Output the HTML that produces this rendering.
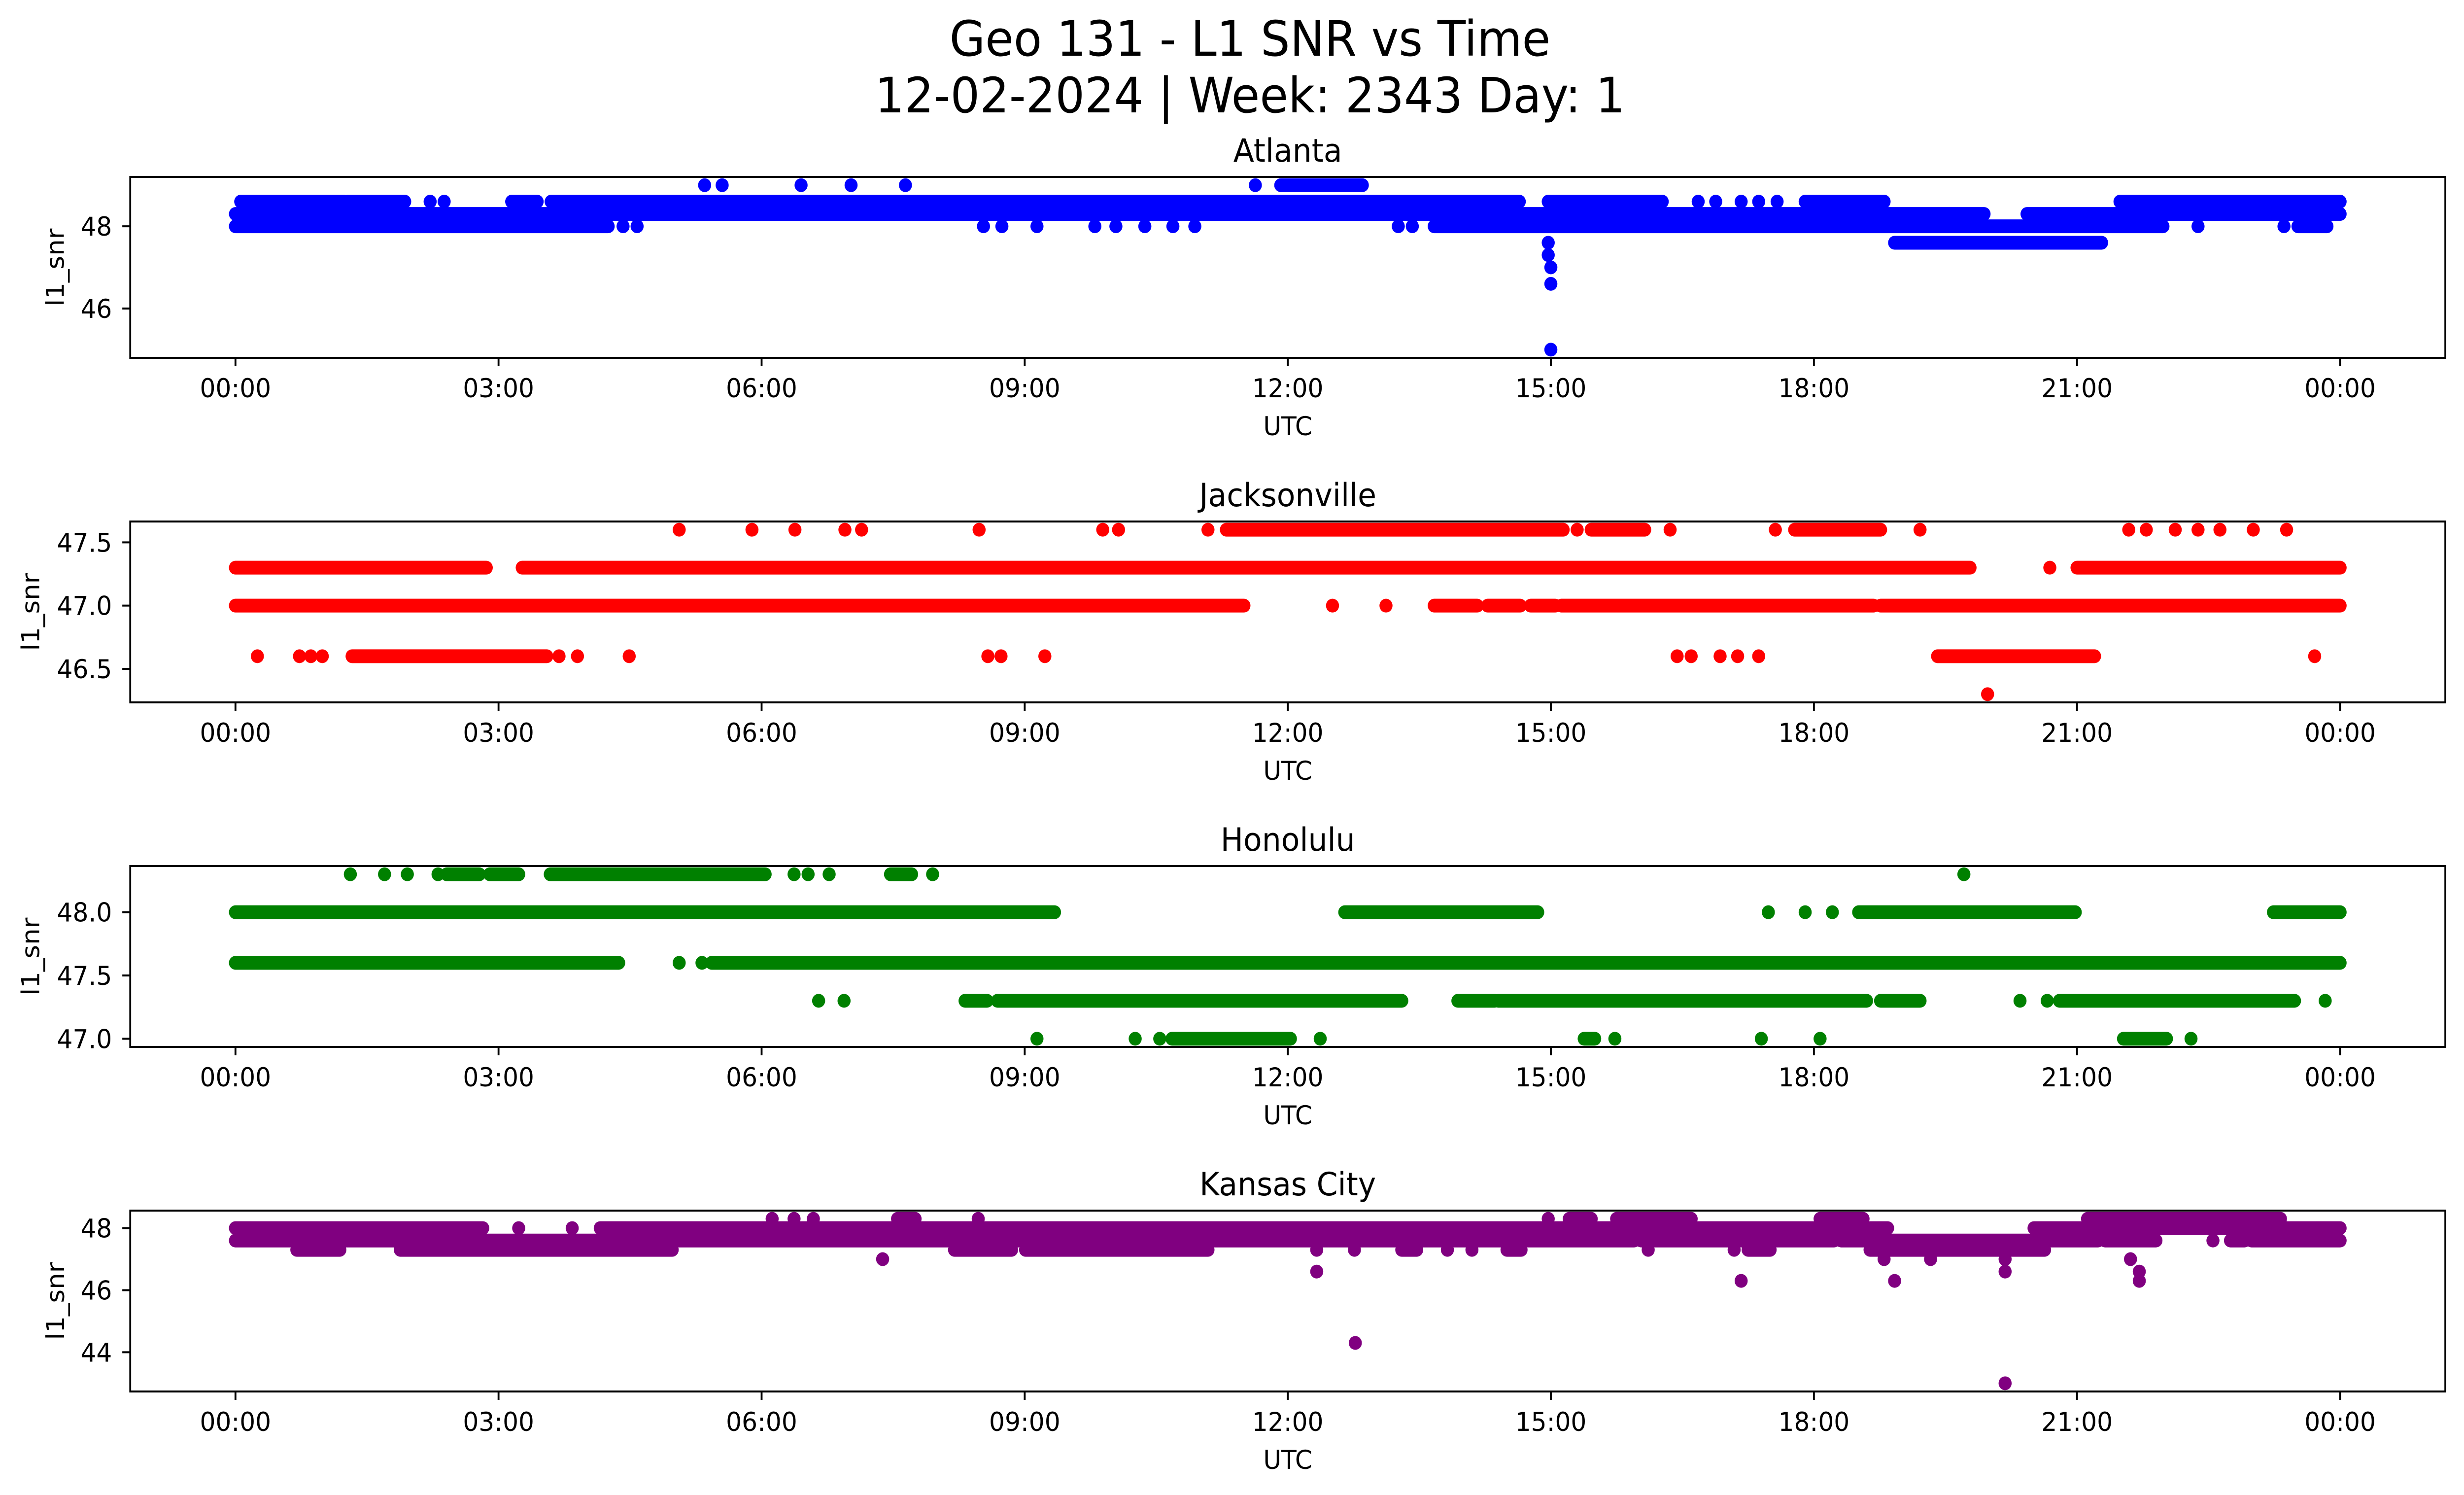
<!DOCTYPE html>
<html><head><meta charset="utf-8"><style>
html,body{margin:0;padding:0;background:#fff;width:100vw;height:100vh;overflow:hidden;}
svg{display:block;width:100vw;height:100vh;font-family:"DejaVu Sans","Liberation Sans",sans-serif;}
</style></head><body>
<svg id="fig" xmlns="http://www.w3.org/2000/svg" viewBox="0 0 5279 3033" preserveAspectRatio="none">
<rect width="5279" height="3033" fill="#fff"/>
<text x="2678" y="113" font-size="99" text-anchor="middle">Geo 131 - L1 SNR vs Time</text>
<text x="2678" y="228" font-size="99" text-anchor="middle">12-02-2024 | Week: 2343 Day: 1</text>
<g id="plots"></g>
</svg>
<script>
// ---- x-axis ticks ----
const xTickHours = [0,3,6,9,12,15,18,21,24];
const xTickLabels = ["00:00","03:00","06:00","09:00","12:00","15:00","18:00","21:00","00:00"];

// ---- Atlanta ----
const atlRunStart = [0.06,1.28,3.15,3.6,14.97,17.9,21.49, 0,20.43, 0,13.67,23.52, 11.92, 18.92];
const atlRunEnd   = [1.24,1.93,3.44,14.64,16.27,18.8,24, 19.94,24, 4.25,21.98,23.85, 12.85, 21.28];
const atlRunVal   = [48.6,48.6,48.6,48.6,48.6,48.6,48.6, 48.3,48.3, 48.0,48.0,48.0, 49.0, 47.6];
const atlPtTime = [2.22,2.38,16.68,16.88,17.17,17.37,17.58, 4.42,4.58,8.53,8.74,9.14,9.8,10.04,10.37,10.69,10.94,13.26,13.42,22.38,23.36, 5.35,5.55,6.45,7.02,7.64,11.63, 14.97,14.97,15.0,15.0,15.0];
const atlPtVal  = [48.6,48.6,48.6,48.6,48.6,48.6,48.6, 48.0,48.0,48.0,48.0,48.0,48.0,48.0,48.0,48.0,48.0,48.0,48.0,48.0,48.0, 49.0,49.0,49.0,49.0,49.0,49.0, 47.6,47.3,47.0,46.6,45.0];

// ---- Jacksonville ----
const jaxRunStart = [11.3,15.46,17.78, 0,3.27,21.0, 0,13.67,14.28,14.77,15.12,18.76, 1.33,19.41];
const jaxRunEnd   = [15.14,16.07,18.76, 2.86,19.78,24, 11.5,14.16,14.65,15.05,18.68,24, 3.55,21.2];
const jaxRunVal   = [47.6,47.6,47.6, 47.3,47.3,47.3, 47.0,47.0,47.0,47.0,47.0,47.0, 46.6,46.6];
const jaxPtTime = [5.06,5.89,6.38,6.95,7.14,8.48,9.89,10.07,11.09,15.3,16.36,17.56,19.21,21.59,21.79,22.12,22.38,22.63,23.01,23.39, 20.69, 12.51,13.12, 0.25,0.73,0.86,0.99,3.69,3.9,4.49,8.58,8.73,9.23,16.44,16.6,16.93,17.13,17.37,23.71, 19.98];
const jaxPtVal  = [47.6,47.6,47.6,47.6,47.6,47.6,47.6,47.6,47.6,47.6,47.6,47.6,47.6,47.6,47.6,47.6,47.6,47.6,47.6,47.6, 47.3, 47.0,47.0, 46.6,46.6,46.6,46.6,46.6,46.6,46.6,46.6,46.6,46.6,46.6,46.6,46.6,46.6,46.6,46.6, 46.3];

// ---- Honolulu ----
const hnlRunStart = [2.41,2.90,3.59,7.47, 0,12.65,18.51,23.24, 0,5.43, 8.32,8.69,13.94,14.4,18.76,20.8, 10.68,15.38,21.53];
const hnlRunEnd   = [2.78,3.23,6.04,7.71, 9.34,14.85,20.98,24, 4.37,24, 8.57,13.3,14.36,18.6,19.21,23.48, 12.03,15.5,22.02];
const hnlRunVal   = [48.3,48.3,48.3,48.3, 48.0,48.0,48.0,48.0, 47.6,47.6, 47.3,47.3,47.3,47.3,47.3,47.3, 47.0,47.0,47.0];
const hnlPtTime = [1.31,1.70,1.96,2.31,6.37,6.53,6.77,7.95,19.71, 17.48,17.9,18.21, 5.06,5.32, 6.65,6.94,20.35,20.66,23.83, 9.14,10.26,10.54,12.37,15.73,17.4,18.07,22.3];
const hnlPtVal  = [48.3,48.3,48.3,48.3,48.3,48.3,48.3,48.3,48.3, 48.0,48.0,48.0, 47.6,47.6, 47.3,47.3,47.3,47.3,47.3, 47.0,47.0,47.0,47.0,47.0,47.0,47.0,47.0];

// ---- Kansas City ----
const kcRunStart = [7.55,15.21,15.75,18.07,21.12, 0,4.16,20.51, 0,16.03,18.31,21.32,22.75,22.99, 0.7,1.88,8.2,9.01,13.3,14.5,17.25,18.64];
const kcRunEnd   = [7.75,15.46,16.6,18.56,23.32, 2.82,18.84,24, 15.95,18.23,21.24,21.9,22.91,24, 1.19,4.98,8.85,11.09,13.47,14.66,17.5,20.63];
const kcRunVal   = [48.3,48.3,48.3,48.3,48.3, 48.0,48.0,48.0, 47.6,47.6,47.6,47.6,47.6,47.6, 47.3,47.3,47.3,47.3,47.3,47.3,47.3,47.3];
const kcPtTime = [6.12,6.37,6.59,8.47,14.97, 3.23,3.84, 22.55, 12.33,12.76,13.82,14.1,16.11,17.09, 7.38,18.8,19.33,20.18,21.61, 12.33,20.18,21.71, 17.17,18.92,21.71, 12.77, 20.18];
const kcPtVal  = [48.3,48.3,48.3,48.3,48.3, 48.0,48.0, 47.6, 47.3,47.3,47.3,47.3,47.3,47.3, 47.0,47.0,47.0,47.0,47.0, 46.6,46.6,46.6, 46.3,46.3,46.3, 44.3, 43.0];

const panels = [
  {key:"atlanta", title:"Atlanta", color:"#0000ff", top:359, ymin:44.8, ymax:49.2, ticks:[46,48], tickLabels:["46","48"], ylx:118,
   rs:atlRunStart, re:atlRunEnd, rv:atlRunVal, pt:atlPtTime, pv:atlPtVal},
  {key:"jacksonville", title:"Jacksonville", color:"#ff0000", top:1058, ymin:46.235, ymax:47.665, ticks:[46.5,47,47.5], tickLabels:["46.5","47.0","47.5"], ylx:65,
   rs:jaxRunStart, re:jaxRunEnd, rv:jaxRunVal, pt:jaxPtTime, pv:jaxPtVal},
  {key:"honolulu", title:"Honolulu", color:"#008000", top:1757, ymin:46.935, ymax:48.365, ticks:[47,47.5,48], tickLabels:["47.0","47.5","48.0"], ylx:65,
   rs:hnlRunStart, re:hnlRunEnd, rv:hnlRunVal, pt:hnlPtTime, pv:hnlPtVal},
  {key:"kansas-city", title:"Kansas City", color:"#800080", top:2456, ymin:42.735, ymax:48.565, ticks:[44,46,48], tickLabels:["44","46","48"], ylx:118,
   rs:kcRunStart, re:kcRunEnd, rv:kcRunVal, pt:kcPtTime, pv:kcPtVal}
];

const NS = "http://www.w3.org/2000/svg";
const L = 279, R = 5239, H = 367, R_MK = 14;
const dataL = L + (R-L)/22, dataR = R - (R-L)/22;
function xScale(h){ return dataL + h/24*(dataR-dataL); }
function mk(tag, attrs, parent){ const e=document.createElementNS(NS,tag); for(const k in attrs) e.setAttribute(k,attrs[k]); parent.appendChild(e); return e; }
const root = document.getElementById("plots");

panels.forEach(p=>{
  const top=p.top, bot=top+H;
  const yScale = v => bot - (v-p.ymin)/(p.ymax-p.ymin)*H;
  const g = mk("g",{},root);
  
  
  const clipId="clip-"+p.key;
  const cp = mk("clipPath",{id:clipId},g);
  mk("rect",{x:L,y:top,width:R-L,height:H},cp);
  const marks = mk("g",{"clip-path":"url(#"+clipId+")"},g);
  
  
  for(let i=0;i<p.rs.length;i++){
    const ln = mk("line",{x1:xScale(p.rs[i]),x2:xScale(p.re[i]),y1:yScale(p.rv[i]),y2:yScale(p.rv[i]),stroke:p.color,"stroke-width":R_MK*2,"stroke-linecap":"round"},marks);
    
    
  }
  for(let i=0;i<p.pt.length;i++){
    const c = mk("circle",{cx:xScale(p.pt[i]),cy:yScale(p.pv[i]),r:R_MK,fill:p.color},marks);
    
    
  }
  const frame = mk("rect",{x:L,y:top,width:R-L,height:H,fill:"none",stroke:"#000","stroke-width":4},g);
  
  
  xTickHours.forEach((h,i)=>{
    const x=xScale(h);
    const t = mk("line",{x1:x,x2:x,y1:bot,y2:bot+17,stroke:"#000","stroke-width":4},g);
    
    
    const tx = mk("text",{x:x,y:bot+80,"font-size":53,"text-anchor":"middle"},g);
    tx.textContent = xTickLabels[i];
    
    
  });
  p.ticks.forEach((v,i)=>{
    const y=yScale(v);
    const t = mk("line",{x1:L-17,x2:L,y1:y,y2:y,stroke:"#000","stroke-width":4},g);
    
    
    const tx = mk("text",{x:240,y:y+19,"font-size":53,"text-anchor":"end"},g);
    tx.textContent = p.tickLabels[i];
    
    
  });
  const tt = mk("text",{x:(L+R)/2,y:top-31,"font-size":65,"text-anchor":"middle"},g);
  tt.textContent = p.title;
  
  
  const xl = mk("text",{x:(L+R)/2,y:bot+157,"font-size":53,"text-anchor":"middle"},g);
  xl.textContent = "UTC";
  
  
  const cy = top+H/2;
  const yl = mk("text",{x:p.ylx+19,y:cy,"font-size":53,"text-anchor":"middle",transform:"rotate(-90 "+(p.ylx+19)+" "+cy+")"},g);
  yl.textContent = "l1_snr";
  
  
});
</script>
</body></html>
